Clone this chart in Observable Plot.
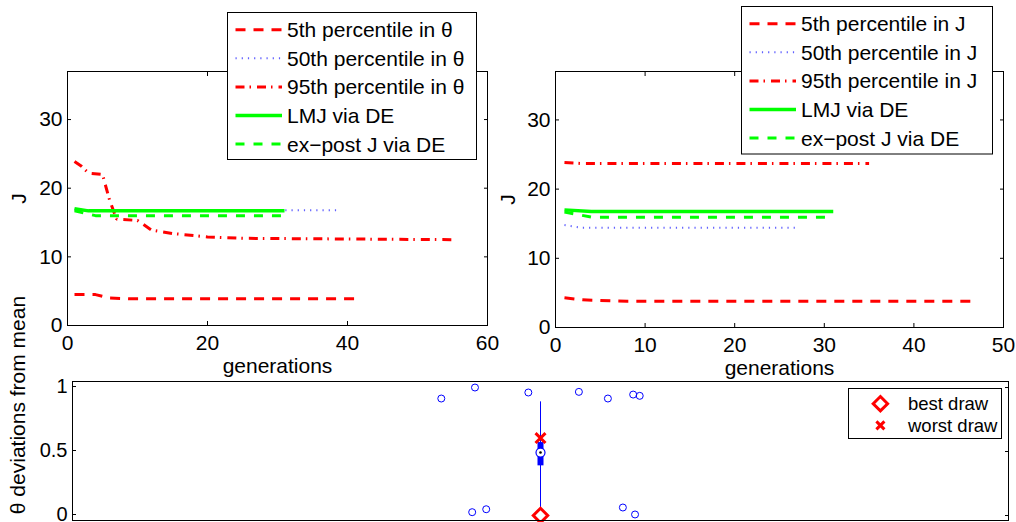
<!DOCTYPE html>
<html>
<head>
<meta charset="utf-8">
<script src="https://cdn.jsdelivr.net/npm/d3@7"></script>
<script src="https://cdn.jsdelivr.net/npm/@observablehq/plot@0.6"></script>
<style>
  body { margin: 0; background: #fff; }
  #wrap { position: relative; width: 1016px; height: 522px; overflow: hidden; background: #fff;
          font-family: "Liberation Sans", Arial, Helvetica, sans-serif; color: #000; }
  .panel { position: absolute; }
  .legend { position: absolute; }
  .ylab { position: absolute; white-space: nowrap; font-size: 21px; transform: translate(-50%, -50%) rotate(-90deg); }
</style>
</head>
<body>
<div id="wrap"></div>
<script>
// ---------- DATA ----------
// Top-left panel: J along generations, percentiles in θ (knots)
const genP5Theta = [1, 4, 6, 9, 42];
const jP5Theta = [4.5, 4.5, 4.0, 3.9, 3.9];
const genP50Theta = [1, 4, 39];
const jP50Theta = [16.9, 16.8, 16.8];
const genP95Theta = [1, 2, 3, 5, 6, 7, 10, 12, 15, 20, 25, 55];
const jP95Theta = [23.9, 23.2, 22.2, 22.0, 18.3, 15.5, 15.3, 13.9, 13.4, 12.9, 12.7, 12.5];
const genLmjTheta = [1, 3, 31];
const jLmjTheta = [17.0, 16.7, 16.7];
const genExpostTheta = [1, 4, 31];
const jExpostTheta = [16.7, 16.0, 16.0];

// Top-right panel: percentiles in J
const genP5J = [1, 3, 8, 47];
const jP5J = [4.3, 4.0, 3.8, 3.8];
const genP50J = [1, 3, 27];
const jP50J = [14.8, 14.4, 14.4];
const genP95J = [1, 3, 35];
const jP95J = [23.85, 23.7, 23.7];
const genLmjJ = [1, 4, 31];
const jLmjJ = [17.0, 16.75, 16.75];
const genExpostJ = [1, 4, 31];
const jExpostJ = [16.7, 15.95, 15.95];

const legendThetaLabels = ["5th percentile in θ", "50th percentile in θ", "95th percentile in θ", "LMJ via DE", "ex\u2212post J via DE"];
const legendJLabels = ["5th percentile in J", "50th percentile in J", "95th percentile in J", "LMJ via DE", "ex\u2212post J via DE"];

// Bottom panel: θ deviations from mean (box plot)
const outlierX = [0.894, 0.930, 0.927, 0.942, 0.987, 1.041, 1.072, 1.099, 1.106, 1.088, 1.101];
const outlierY = [0.914, 1.0, 0.026, 0.049, 0.961, 0.966, 0.914, 0.945, 0.935, 0.0625, 0.008];
const boxPos = 1;
const whiskerLow = -0.04, q1 = 0.388, medianVal = 0.492, q3 = 0.570, whiskerHigh = 0.888;
const bestDraw = 0.0, worstDraw = 0.605;
const bottomLegendLabels = ["best draw", "worst draw"];

// Ticks
const xTicksTheta = [0, 20, 40, 60];
const xTicksJ = [0, 10, 20, 30, 40, 50];
const yTicksTop = [0, 10, 20, 30];
const yTicksBottom = [0, 0.5, 1];

// ---------- STYLES ----------
const seriesStyles = [
  {stroke: "#ff0000", strokeWidth: 3, strokeDasharray: "10,8"},
  {stroke: "#3a3aff", strokeWidth: 2, strokeDasharray: "1.2,5", strokeOpacity: 0.8},
  {stroke: "#ff0000", strokeWidth: 3, strokeDasharray: "9,5,1.5,6"},
  {stroke: "#00ff00", strokeWidth: 3.5, strokeDasharray: null},
  {stroke: "#00ff00", strokeWidth: 3, strokeDasharray: "9,9"}
];
const FONT = "'Liberation Sans', Arial, Helvetica, sans-serif";
const svgStyle = {fontFamily: FONT, fontSize: "21px", color: "#000", background: "none", overflow: "visible"};

const wrap = document.getElementById("wrap");

function toRows(gens, vals) { return gens.map((g, i) => ({g, v: vals[i]})); }

function lineMarks(series) {
  return series.map(([gens, vals], i) => {
    const s = seriesStyles[i];
    return Plot.line(toRows(gens, vals), {x: "g", y: "v", stroke: s.stroke, strokeWidth: s.strokeWidth,
      strokeDasharray: s.strokeDasharray ?? undefined, strokeOpacity: s.strokeOpacity ?? 1,
      strokeLinecap: "butt", strokeLinejoin: "miter"});
  });
}

function boxAxes(xTicks, yTicks, xLabel, yLabel, yLabelOffset, yFormat, yText = {}) {
  const m = [];
  if (xTicks) {
    m.push(Plot.axisX({anchor: "bottom", ticks: xTicks, tickSize: -4, tickPadding: 14, label: xLabel,
      labelAnchor: "center", labelOffset: 47, labelArrow: "none"}));
    m.push(Plot.axisX({anchor: "top", ticks: xTicks, tickSize: -4, tickFormat: () => "", label: null}));
  }
  m.push(Plot.axisY({anchor: "left", ticks: yTicks, tickSize: -4, tickPadding: 9, label: yLabel,
    labelAnchor: "center", labelOffset: yLabelOffset, labelArrow: "none", tickFormat: yFormat, ...yText}));
  m.push(Plot.axisY({anchor: "right", ticks: yTicks, tickSize: -4, tickFormat: () => "", label: null}));
  return m;
}

function place(el, left, top, cls) {
  el.classList.add(cls);
  el.style.left = left + "px";
  el.style.top = top + "px";
  wrap.appendChild(el);
}

// ---------- TOP-LEFT ----------
const plotTL = Plot.plot({
  width: 500, height: 380,
  marginLeft: 67, marginRight: 13, marginTop: 71, marginBottom: 55,
  style: svgStyle,
  x: {domain: [0, 60]},
  y: {domain: [0, 37]},
  marks: [
    ...lineMarks([[genP5Theta, jP5Theta], [genP50Theta, jP50Theta], [genP95Theta, jP95Theta],
                  [genLmjTheta, jLmjTheta], [genExpostTheta, jExpostTheta]]),
    Plot.frame({stroke: "#000"}),
    ...boxAxes(xTicksTheta, yTicksTop, "generations", "J", 56, d => String(d))
  ]
});
place(plotTL, 0, 0, "panel");

// ---------- TOP-RIGHT ----------
const plotTR = Plot.plot({
  width: 516, height: 380,
  marginLeft: 55, marginRight: 13, marginTop: 71, marginBottom: 53,
  style: svgStyle,
  x: {domain: [0, 50]},
  y: {domain: [0, 37]},
  marks: [
    ...lineMarks([[genP5J, jP5J], [genP50J, jP50J], [genP95J, jP95J],
                  [genLmjJ, jLmjJ], [genExpostJ, jExpostJ]]),
    Plot.frame({stroke: "#000"}),
    ...boxAxes(xTicksJ, yTicksTop, "generations", "J", 55, d => String(d))
  ]
});
place(plotTR, 500, 0, "panel");

// ---------- BOTTOM ----------
const outliers = outlierX.map((x, i) => ({x, y: outlierY[i]}));
const box = [{pos: boxPos, lo: whiskerLow, q1, med: medianVal, q3, hi: whiskerHigh, best: bestDraw, worst: worstDraw}];
const plotB = Plot.plot({
  width: 1016, height: 152,
  marginLeft: 72, marginRight: 8, marginTop: 11, marginBottom: 2,
  style: svgStyle,
  x: {domain: [0.5, 1.5], axis: null},
  y: {domain: [-0.039, 1.047]},
  marks: [
    Plot.dot(outliers, {x: "x", y: "y", r: 3.5, stroke: "#0000ff", strokeWidth: 1, fill: "none"}),
    Plot.ruleX(box, {x: "pos", y1: "lo", y2: "hi", stroke: "#0000ff", strokeWidth: 1}),
    Plot.ruleX(box, {x: "pos", y1: "q1", y2: "q3", stroke: "#0000ff", strokeWidth: 6}),
    Plot.dot(box, {x: "pos", y: "med", r: 4.5, stroke: "#0000ff", strokeWidth: 1.2, fill: "#fff"}),
    Plot.dot(box, {x: "pos", y: "med", r: 1.3, fill: "#000", stroke: "none"}),
    Plot.dot(box, {x: "pos", y: "worst", symbol: "times", r: 4.6, stroke: "#ff0000", strokeWidth: 3}),
    Plot.dot(box, {x: "pos", y: "best", symbol: "diamond2", r: 6.5, stroke: "#ff0000", strokeWidth: 3, fill: "#fff"}),
    Plot.frame({stroke: "#000"}),
    ...boxAxes(null, yTicksBottom, null, null, 0, d => String(d), {fontSize: 20, dy: -1})
  ]
});
place(plotB, 0, 370, "panel");

// bottom y label
const yl = document.createElement("div");
yl.textContent = "θ deviations from mean";
place(yl, 18, 405, "ylab");

// ---------- LEGENDS ----------
function lineLegend(left, top, w, h, labels) {
  const svg = d3.create("svg").attr("width", w).attr("height", h)
    .style("font-family", FONT).style("font-size", "21px").style("overflow", "visible");
  svg.append("rect").attr("x", 0.5).attr("y", 0.5).attr("width", w - 1).attr("height", h - 1)
    .attr("fill", "#fff").attr("stroke", "#000").attr("stroke-width", 1);
  labels.forEach((lab, i) => {
    const y = 17.7 + i * 28.6;
    const s = seriesStyles[i];
    svg.append("line").attr("x1", 8.5).attr("x2", 55).attr("y1", y).attr("y2", y)
      .attr("stroke", s.stroke).attr("stroke-width", s.strokeWidth)
      .attr("stroke-dasharray", s.strokeDasharray).attr("stroke-opacity", s.strokeOpacity ?? 1);
    svg.append("text").attr("x", 60).attr("y", y).attr("dy", "0.36em").attr("fill", "#000").text(lab);
  });
  place(svg.node(), left, top, "legend");
}
lineLegend(226.5, 12, 250, 148, legendThetaLabels);
lineLegend(741, 6, 252, 148.5, legendJLabels);

(function () {
  const w = 154, h = 51;
  const svg = d3.create("svg").attr("width", w).attr("height", h)
    .style("font-family", FONT).style("font-size", "18.5px");
  svg.append("rect").attr("x", 0.5).attr("y", 0.5).attr("width", w - 1).attr("height", h - 1)
    .attr("fill", "#fff").attr("stroke", "#000");
  const ys = [15.7, 37.4];
  svg.append("path").attr("transform", `translate(32.4,${ys[0]})`)
    .attr("d", "M0,-7.2L7.2,0L0,7.2L-7.2,0Z").attr("fill", "#fff").attr("stroke", "#ff0000").attr("stroke-width", 3);
  svg.append("path").attr("transform", `translate(32.4,${ys[1]})`)
    .attr("d", "M-4,-4L4,4M-4,4L4,-4").attr("stroke", "#ff0000").attr("stroke-width", 3);
  bottomLegendLabels.forEach((lab, i) => {
    svg.append("text").attr("x", 60).attr("y", ys[i]).attr("dy", "0.36em").text(lab);
  });
  place(svg.node(), 848, 388, "legend");
})();
</script>
</body>
</html>
